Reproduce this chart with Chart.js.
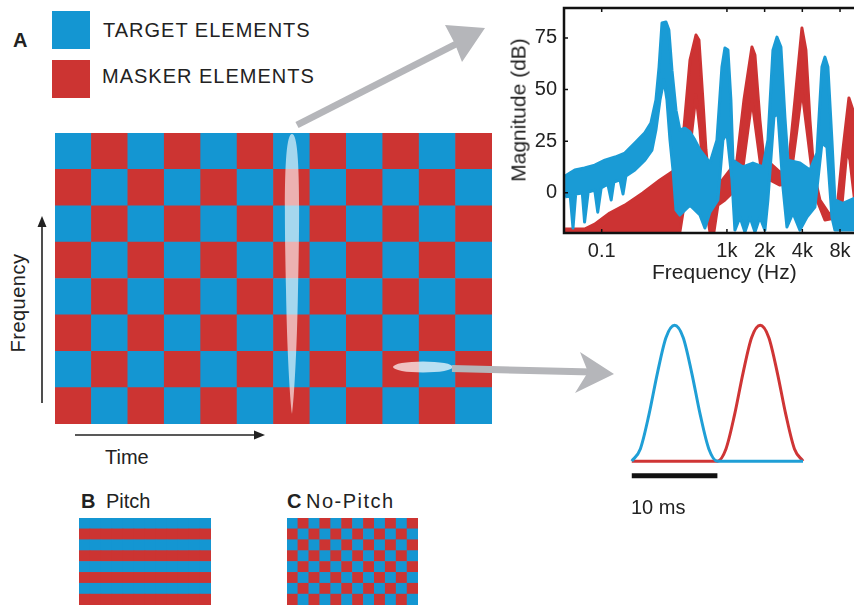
<!DOCTYPE html>
<html lang="en">
<head>
<meta charset="UTF-8">
<title>Target and masker elements</title>
<script src="https://cdn.jsdelivr.net/npm/chart.js"></script>
<style>
    html, body { margin: 0; padding: 0; background: #fff; overflow: hidden; }
    body {
        width: 854px; height: 605px; position: relative;
        font-family: "Liberation Sans", Arial, sans-serif; color: #222;
    }
    .box { position: absolute; }
    .lbl { position: absolute; line-height: 1; white-space: nowrap; font-size: 20px; }
    .bold { font-weight: bold; }
    .swatch { position: absolute; width: 38px; height: 38px; }
    #overlay { position: absolute; left: 0; top: 0; pointer-events: none; }
</style>
</head>
<body>
    <!-- legend -->
    <div class="lbl bold" style="left:13px; top:30px;">A</div>
    <div class="swatch" style="left:52px; top:11px; background:#1496d2;"></div>
    <div class="swatch" style="left:52px; top:60px; background:#cc3432;"></div>
    <div class="lbl" style="left:103px; top:20px; letter-spacing:1px;">TARGET ELEMENTS</div>
    <div class="lbl" style="left:102px; top:66px; letter-spacing:1px;">MASKER ELEMENTS</div>

    <!-- main time-frequency board -->
    <div class="box" style="left:55px; top:133px; width:437px; height:291px;"><canvas id="boardA"></canvas></div>
    <div class="lbl" style="left:18px; top:303px; transform:translate(-50%,-50%) rotate(-90deg); letter-spacing:0.5px;">Frequency</div>
    <div class="lbl" style="left:105px; top:447px;">Time</div>

    <!-- B / C -->
    <div class="lbl bold" style="left:81px; top:491px;">B</div>
    <div class="lbl" style="left:106px; top:491px;">Pitch</div>
    <div class="box" style="left:79px; top:518px; width:132px; height:87px;"><canvas id="boardB"></canvas></div>
    <div class="lbl bold" style="left:287px; top:491px;">C</div>
    <div class="lbl" style="left:306px; top:491px; letter-spacing:1.5px;">No-Pitch</div>
    <div class="box" style="left:287px; top:518px; width:131px; height:87px;"><canvas id="boardC"></canvas></div>

    <!-- spectrum -->
    <div class="box" style="left:500px; top:0px; width:360px; height:273px;"><canvas id="spectrum"></canvas></div>
    <div class="lbl" style="left:518px; top:110px; font-size:21px; transform:translate(-50%,-50%) rotate(-90deg);">Magnitude (dB)</div>
    <div class="lbl" style="left:652px; top:261px; font-size:21px;">Frequency (Hz)</div>

    <!-- pulses -->
    <div class="box" style="left:624.6px; top:316px; width:184.8px; height:168px;"><canvas id="pulses"></canvas></div>
    <div class="lbl" style="left:631px; top:497px;">10 ms</div>

    <svg id="overlay" width="854" height="605">
        <!-- highlighted regions -->
        <path d="M292 134 C300 134 300 200 298 290 C297 350 294 400 292 414 C290 400 287 350 286 290 C284 200 284 134 292 134 Z"
              fill="#fff" fill-opacity="0.62"/>
        <ellipse cx="423" cy="367" rx="30" ry="5.5" fill="#fff" fill-opacity="0.7"/>
        <!-- big grey arrows -->
        <line x1="297" y1="125" x2="458" y2="43" stroke="#b5b6ba" stroke-width="7"/>
        <polygon points="445,25 485,28 462,62 455,44" fill="#b5b6ba"/>
        <line x1="452" y1="368.5" x2="592" y2="372" stroke="#b5b6ba" stroke-width="7"/>
        <polygon points="580,352 614,374 575,393 588,372" fill="#b5b6ba"/>
        <!-- axis arrows -->
        <line x1="42" y1="403" x2="42" y2="224" stroke="#222" stroke-width="1.6"/>
        <polygon points="42,216 37.5,227 46.5,227" fill="#222"/>
        <line x1="75" y1="435" x2="256" y2="435" stroke="#222" stroke-width="1.6"/>
        <polygon points="265,435 254,430.5 254,439.5" fill="#222"/>
    </svg>

<script>
    // ---- data ----
    // grids, rows listed top to bottom: T = target element, M = masker element
    const gridA = [
        'TMTMTMTMTMTM', 'MTMTMTMTMTMT',
        'TMTMTMTMTMTM', 'MTMTMTMTMTMT',
        'TMTMTMTMTMTM', 'MTMTMTMTMTMT',
        'TMTMTMTMTMTM', 'MTMTMTMTMTMT'
    ];
    const gridPitch = [
        'TTTTTTTTTTTT', 'MMMMMMMMMMMM',
        'TTTTTTTTTTTT', 'MMMMMMMMMMMM',
        'TTTTTTTTTTTT', 'MMMMMMMMMMMM',
        'TTTTTTTTTTTT', 'MMMMMMMMMMMM'
    ];
    const gridNoPitch = gridA.slice();

    // spectrum envelopes [Hz, dB]
    const targetUpper = [
        [51, 8.1], [61, 11], [73, 12], [88, 13.4], [106, 15.8], [128, 17.3], [153, 19.2],
        [184, 24.1], [221, 29], [247, 33.8], [271, 44.9], [287, 60.9], [303, 82.2], [326, 82.7],
        [344, 78.8], [364, 59.4], [392, 40], [421, 30.4], [462, 31.3], [507, 29.4], [555, 25.5],
        [609, 20.7], [732, 14.4], [832, 25.5], [912, 60.9], [964, 70.1], [1019, 69.1], [1076, 44.9],
        [1117, 15.8], [1342, 12.5], [1613, 14.4], [1938, 12.5], [2125, 25.5], [2330, 69.1],
        [2508, 75.4], [2699, 70.6], [2904, 36.7], [3069, 15.8], [3827, 14.4], [4600, 11],
        [5232, 19.2], [5736, 60.9], [6060, 65.7], [6404, 60.9], [6892, 25.5], [7284, -3.5],
        [8437, -5.1], [10915, -2.1]
    ];
    const targetLower = [
        [51, -2.1], [56, -1.1], [59, -17.1], [62, -0.6], [70, -0.1], [73, -14.2], [78, 0.3],
        [88, 1.3], [93, -9.4], [99, 2.3], [112, 4.2], [119, -3.5], [125, 5.2], [140, 6.2],
        [148, -0.6], [156, 8.1], [184, 11], [221, 15.8], [252, 20.7], [271, 30.4], [292, 44.9],
        [314, 54.6], [332, 44.9], [351, 25.5], [371, 11], [392, -8.4], [421, -10.8], [507, -6],
        [609, -10.8], [667, -17.1], [732, -9.4], [847, -3.5], [929, 25.5], [1000, 28.9],
        [1097, 6.2], [1158, -18.1], [1270, -11.8], [1392, -19], [1526, -11.8], [1674, -19],
        [1834, -11.8], [2011, -18.1], [2125, -3.5], [2373, 36.7], [2555, 38.6], [2800, 2.8],
        [3015, -16.6], [3366, -9.8], [3827, -18.1], [4353, -11.8], [5043, -6.9], [5736, 24.1],
        [6290, 22.1], [6892, -11.8], [7284, -18.1], [10915, -18.1]
    ];
    const maskerUpper = [
        [51, -17.6], [73, -17.6], [88, -15.2], [116, -9.8], [153, -6], [213, -0.1], [292, 6.2],
        [384, 11], [445, 25.5], [507, 64.3], [566, 76.4], [598, 74], [643, 44.9], [680, 20.7],
        [732, 1.3], [787, -1.1], [879, 4.7], [1057, 11], [1202, 15.8], [1367, 44.9], [1584, 70.6],
        [1674, 66.7], [1834, 35.2], [1974, 15.8], [2205, 14.4], [2650, 10], [3069, 11],
        [3492, 44.9], [3970, 79.8], [4272, 69.1], [4600, 35.2], [4952, 9.5], [5529, -3.5],
        [6644, -10.8], [7696, -3.5], [8437, 20.7], [9422, 45.9], [10140, 40.1], [10915, 20.7]
    ];
    const maskerLower = [
        [51, -19], [421, -19], [462, -3.5], [526, 30.4], [566, 47.3], [609, 30.4], [667, -3.5],
        [732, -19], [787, -19], [847, -6], [964, -3.5], [1158, 1.3], [1318, 8.6], [1471, 30.4],
        [1584, 44.9], [1704, 30.4], [1903, 8.6], [2205, 6.2], [2650, 3.7], [3185, 4.7],
        [3622, 30.4], [3970, 49.8], [4353, 30.4], [5043, -1.1], [6060, -13.2], [7284, -12.2],
        [8284, -6], [9082, 20.7], [9600, 15.8], [10915, -13.2]
    ];
    const freqTicks = [100, 1000, 2000, 4000, 8000];
    const freqTickLabels = ['0.1', '1k', '2k', '4k', '8k'];
    const dbTicks = [0, 25, 50, 75];

    // tone pips (ms, relative amplitude)
    const targetPulseMs = [0, 1, 2, 3, 4, 5, 6, 7, 8, 9, 10, 20];
    const targetPulse   = [0, 0.09, 0.34, 0.65, 0.91, 1, 0.91, 0.65, 0.34, 0.09, 0, 0];
    const maskerPulseMs = [0, 10, 11, 12, 13, 14, 15, 16, 17, 18, 19, 20];
    const maskerPulse   = [0, 0, 0.09, 0.34, 0.65, 0.91, 1, 0.91, 0.65, 0.34, 0.09, 0];
    const scaleBarMs = [0, 10];

    // ---- drawing ----
    const BLUE = '#1496d2';
    const RED = '#cc3432';
    Chart.defaults.font.family = '"Liberation Sans", Arial, sans-serif';
    Chart.defaults.color = '#222';

    function makeBoard(id, grid) {
        const cols = grid[0].length;
        const rowsBottomUp = grid.slice().reverse();
        const datasets = rowsBottomUp.map(row => ({
            data: row.split('').map(() => 1),
            backgroundColor: row.split('').map(c => c === 'T' ? BLUE : RED),
            borderWidth: 0,
            barPercentage: 1,
            categoryPercentage: 1
        }));
        return new Chart(document.getElementById(id), {
            type: 'bar',
            data: { labels: Array.from({length: cols}, (_, i) => i + 1), datasets },
            options: {
                animation: false,
                responsive: true,
                maintainAspectRatio: false,
                layout: { padding: 0 },
                scales: {
                    x: { stacked: true, display: false },
                    y: { stacked: true, display: false, min: 0, max: grid.length }
                },
                plugins: { legend: { display: false }, tooltip: { enabled: false } }
            }
        });
    }
    makeBoard('boardA', gridA);
    makeBoard('boardB', gridPitch);
    makeBoard('boardC', gridNoPitch);

    const toXY = arr => arr.map(p => ({x: p[0], y: p[1]}));

    // frame with inward ticks, matlab style
    const axisBox = {
        id: 'axisBox',
        afterDraw(chart) {
            const {ctx, chartArea: a, scales} = chart;
            ctx.save();
            ctx.strokeStyle = '#111';
            ctx.lineWidth = 2.5;
            ctx.strokeRect(a.left, a.top, a.right - a.left, a.bottom - a.top);
            ctx.lineWidth = 1.5;
            ctx.beginPath();
            freqTicks.forEach(v => {
                const px = scales.x.getPixelForValue(v);
                ctx.moveTo(px, a.bottom); ctx.lineTo(px, a.bottom - 4);
                ctx.moveTo(px, a.top); ctx.lineTo(px, a.top + 4);
            });
            dbTicks.forEach(v => {
                const py = scales.y.getPixelForValue(v);
                ctx.moveTo(a.left, py); ctx.lineTo(a.left + 4, py);
            });
            ctx.stroke();
            ctx.restore();
        }
    };

    const bandLine = (data, color, fill) => ({
        data: toXY(data),
        borderColor: color,
        backgroundColor: color,
        borderWidth: 3,
        borderJoinStyle: 'round',
        pointRadius: 0,
        tension: 0,
        fill: fill
    });

    new Chart(document.getElementById('spectrum'), {
        type: 'line',
        data: {
            datasets: [
                bandLine(targetUpper, '#1a9bd5', false),
                bandLine(targetLower, '#1a9bd5', '-1'),
                bandLine(maskerUpper, '#cc3333', false),
                bandLine(maskerLower, '#cc3333', '-1')
            ]
        },
        options: {
            animation: false,
            responsive: true,
            maintainAspectRatio: false,
            layout: { padding: { top: 8, right: 3, left: 0, bottom: 0 } },
            scales: {
                x: {
                    type: 'logarithmic',
                    min: 50, max: 10930,
                    grid: { display: false, drawTicks: false },
                    border: { display: false },
                    afterBuildTicks: s => { s.ticks = freqTicks.map(v => ({value: v})); },
                    afterFit: s => { s.height = 40; s.paddingLeft = 0; s.paddingRight = 0; },
                    ticks: {
                        autoSkip: false, maxRotation: 0, padding: 6,
                        font: { size: 20 },
                        callback: (v, i) => freqTickLabels[i]
                    }
                },
                y: {
                    min: -19.5, max: 89.5,
                    grid: { display: false, drawTicks: false },
                    border: { display: false },
                    afterBuildTicks: s => { s.ticks = dbTicks.map(v => ({value: v})); },
                    afterFit: s => { s.width = 64; s.paddingTop = 0; s.paddingBottom = 0; },
                    ticks: { padding: 7, font: { size: 20 } }
                }
            },
            plugins: { legend: { display: false }, tooltip: { enabled: false } }
        },
        plugins: [axisBox]
    });

    new Chart(document.getElementById('pulses'), {
        type: 'line',
        data: {
            datasets: [
                {
                    data: targetPulseMs.map((t, i) => ({x: t, y: targetPulse[i]})),
                    borderColor: '#1f9fd6', borderWidth: 3, pointRadius: 0,
                    cubicInterpolationMode: 'monotone'
                },
                {
                    data: maskerPulseMs.map((t, i) => ({x: t, y: maskerPulse[i]})),
                    borderColor: '#cf3535', borderWidth: 3, pointRadius: 0,
                    cubicInterpolationMode: 'monotone'
                },
                {
                    data: scaleBarMs.map(t => ({x: t, y: -0.107})),
                    borderColor: '#111', borderWidth: 5, pointRadius: 0,
                    borderCapStyle: 'butt'
                }
            ]
        },
        options: {
            animation: false,
            responsive: true,
            maintainAspectRatio: false,
            layout: { padding: 0 },
            scales: {
                x: { type: 'linear', min: -0.5, max: 20.5, display: false },
                y: { min: -0.15, max: 1.05, display: false }
            },
            plugins: { legend: { display: false }, tooltip: { enabled: false } }
        }
    });
</script>
</body>
</html>
